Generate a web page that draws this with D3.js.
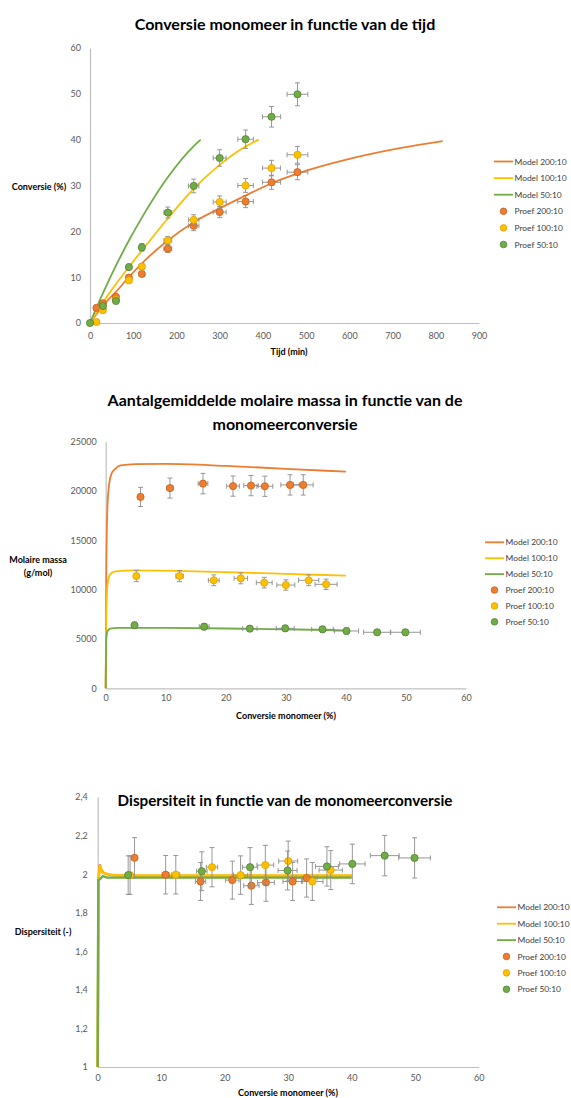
<!DOCTYPE html>
<meta charset="utf-8">
<style>
body { margin: 0; background: #fff; }
text { font-family: Lato, "Open Sans", sans-serif; }
</style>
<body>
<script src="https://cdnjs.cloudflare.com/ajax/libs/d3/7.8.5/d3.min.js"></script>
<script>

var width = 571,
    height = 1098;

var seriesNames = ["200:10", "100:10", "50:10"];
var colors = ["#ED7D31", "#FFC000", "#70AD47"],
    darker = ["#C9601A", "#D9A300", "#548235"];

// --- grafiek 1: conversie vs tijd
var tijdTicks = [0, 100, 200, 300, 400, 500, 600, 700, 800, 900];
var convTicks = [0, 10, 20, 30, 40, 50, 60];

var proefTijd200 = [15, 30, 60, 90, 120, 180, 240, 300, 360, 420, 480];
var proefConv200 = [3.3, 4.3, 5.7, 9.9, 10.7, 16.2, 21.2, 24.2, 26.5, 30.7, 32.9];
var proefTijd100 = [15, 30, 60, 90, 120, 180, 240, 300, 360, 420, 480];
var proefConv100 = [0.2, 2.8, 5.1, 9.3, 12.3, 18.0, 22.5, 26.4, 30.0, 33.8, 36.7];
var proefTijd50 = [0, 30, 60, 90, 120, 180, 240, 300, 360, 420, 480];
var proefConv50 = [0, 3.7, 4.8, 12.2, 16.5, 24.1, 29.9, 36.0, 40.1, 45.0, 49.9];

var modelTijd200 = [0, 30, 60, 90, 120, 180, 240, 300, 360, 420, 480, 600, 720, 816];
var modelConv200 = [0, 3.8, 6.8, 10, 13, 18, 22, 25, 27.8, 30.5, 32.6, 35.8, 38.2, 39.7];
var modelTijd100 = [0, 30, 60, 120, 180, 240, 300, 360, 390];
var modelConv100 = [0, 4.5, 8.5, 15.8, 22.8, 29.3, 34.5, 38.5, 40];
var modelTijd50 = [0, 30, 60, 90, 120, 180, 240, 256];
var modelConv50 = [0, 6.5, 12.5, 18, 23, 31.8, 38.6, 40];

// --- grafiek 2: Mn vs conversie
var pctTicks = [0, 10, 20, 30, 40, 50, 60];
var mnTicks = [0, 5000, 10000, 15000, 20000, 25000];

var mnConv200 = [5.8, 10.7, 16.2, 21.2, 24.2, 26.5, 30.7, 32.9];
var mnProef200 = [19400, 20300, 20750, 20500, 20550, 20480, 20620, 20620];
var mnConv100 = [5.1, 12.3, 18.0, 22.5, 26.4, 30.0, 33.8, 36.7];
var mnProef100 = [11380, 11380, 10950, 11150, 10710, 10470, 10950, 10540];
var mnConv50 = [4.8, 16.4, 24.0, 29.9, 36.1, 40.1, 45.2, 49.9];
var mnProef50 = [6390, 6250, 6050, 6080, 5980, 5810, 5680, 5680];

var mnModelX200 = [0, 0.1, 0.3, 0.6, 1, 1.5, 2.5, 5, 10, 20, 30, 40];
var mnModel200 = [0, 12000, 18500, 20800, 21800, 22200, 22600, 22720, 22750, 22550, 22250, 21960];
var mnModelX100 = [0, 0.1, 0.3, 0.6, 1, 2, 5, 10, 20, 30, 40];
var mnModel100 = [0, 7000, 10500, 11400, 11700, 11880, 11950, 11920, 11780, 11600, 11420];
var mnModelX50 = [0, 0.1, 0.3, 0.6, 1, 2, 5, 10, 20, 30, 40];
var mnModel50 = [0, 5000, 5800, 6000, 6080, 6120, 6130, 6120, 6060, 5980, 5880];

// --- grafiek 3: dispersiteit vs conversie
var dispTicks = [1, 1.2, 1.4, 1.6, 1.8, 2, 2.2, 2.4];

var dispProef200 = [2.085, 1.997, 1.962, 1.969, 1.940, 1.957, 1.962, 1.980];
var dispProef100 = [1.995, 1.997, 2.036, 1.995, 2.047, 2.068, 1.962, 2.021];
var dispProef50 = [1.995, 2.015, 2.036, 2.019, 2.040, 2.053, 2.096, 2.084];

var dispModelX200 = [0, 0.1, 0.3, 0.6, 1, 2, 5, 10, 20, 30, 40];
var dispModel200 = [1, 1.95, 2.05, 2.02, 2.005, 1.995, 1.99, 1.99, 1.99, 1.99, 1.99];
var dispModelX100 = [0, 0.15, 0.35, 0.7, 1.5, 3, 10, 20, 30, 40];
var dispModel100 = [1, 1.97, 2.045, 2.01, 2.0, 1.993, 1.993, 1.993, 1.993, 1.993];
var dispModelX50 = [0, 0.1, 0.4, 0.8, 1.5, 5, 10, 20, 30, 40];
var dispModel50 = [1, 1.97, 1.975, 1.99, 1.982, 1.982, 1.982, 1.982, 1.982, 1.982];

var svg = d3.select("body").append("svg")
    .attr("width", width)
    .attr("height", height);

var comma = function(d) { return String(d).replace(".", ","); };

function zip(xs, ys) {
    return xs.map(function(x, i) { return [x, ys[i]]; });
}

function drawChart(c) {
    var x = d3.scaleLinear().domain(c.xDomain).range(c.xRange),
        y = d3.scaleLinear().domain(c.yDomain).range(c.yRange);

    // titel
    c.title.forEach(function(t, i) {
        svg.append("text")
            .attr("x", 285).attr("y", c.titleY + i * 24)
            .attr("text-anchor", "middle")
            .style("font-size", c.titleSize + "px").style("font-weight", "bold")
            .style("fill", "#000")
            .text(t);
    });

    var xAxis = svg.append("g")
        .attr("transform", "translate(0," + c.yRange[0] + ")")
        .call(d3.axisBottom(x).tickValues(c.xTicks).tickSize(0).tickPadding(c.xPad)
            .tickFormat(d3.format("d")));
    var yAxis = svg.append("g")
        .attr("transform", "translate(" + c.xRange[0] + ",0)")
        .call(d3.axisLeft(y).tickValues(c.yTicks).tickSize(0).tickPadding(c.yPad)
            .tickFormat(c.yFormat || d3.format("d")));
    [xAxis, yAxis].forEach(function(a) {
        a.select(".domain").attr("stroke", "#bfbfbf").attr("stroke-width", 1.2);
        a.selectAll("text").style("font-size", "9px").style("fill", "#595959")
            .style("font-family", "Lato, sans-serif");
    });

    svg.append("text")
        .attr("x", c.xTitle[0]).attr("y", c.xTitle[1])
        .attr("text-anchor", "middle")
        .style("font-size", "9px").style("font-weight", "bold")
        .text(c.xLabel);
    c.yLabel.forEach(function(t, i) {
        svg.append("text")
            .attr("x", c.yTitle[0]).attr("y", c.yTitle[1] + i * 13)
            .attr("text-anchor", "middle")
            .style("font-size", "9px").style("font-weight", "bold")
            .text(t);
    });

    var line = d3.line()
        .x(function(d) { return x(d[0]); })
        .y(function(d) { return y(d[1]); })
        .curve(c.curve);

    c.models.forEach(function(m, i) {
        svg.append("path")
            .datum(m)
            .attr("fill", "none")
            .attr("stroke", colors[i])
            .attr("stroke-width", c.lineWidth)
            .attr("d", line);
    });

    c.proef.forEach(function(s, i) {
        var g = svg.append("g");
        s.forEach(function(d) {
            var ex = d[0] * 0.05, ey = d[1] * c.yErr;
            var px = x(d[0]), py = y(d[1]);
            var x0 = x(d[0] - ex), x1 = x(d[0] + ex),
                y0 = y(d[1] - ey), y1 = y(d[1] + ey);
            var p = d3.path();
            if (x1 - x0 > 1) {
                p.moveTo(x0, py); p.lineTo(x1, py);
                p.moveTo(x0, py - 2.5); p.lineTo(x0, py + 2.5);
                p.moveTo(x1, py - 2.5); p.lineTo(x1, py + 2.5);
            }
            if (y0 - y1 > 1) {
                p.moveTo(px, y0); p.lineTo(px, y1);
                p.moveTo(px - 2.5, y0); p.lineTo(px + 2.5, y0);
                p.moveTo(px - 2.5, y1); p.lineTo(px + 2.5, y1);
            }
            g.append("path").attr("d", p.toString())
                .attr("fill", "none").attr("stroke", "#8c8c8c").attr("stroke-width", 0.9);
        });
        g.selectAll("circle")
            .data(s)
            .enter().append("circle")
            .attr("cx", function(d) { return x(d[0]); })
            .attr("cy", function(d) { return y(d[1]); })
            .attr("r", 3.6)
            .attr("fill", colors[i])
            .attr("stroke", darker[i])
            .attr("stroke-width", 0.8);
    });

    // legenda
    var lg = svg.append("g").attr("transform", "translate(" + c.legend[0] + ",0)");
    seriesNames.forEach(function(n, i) {
        var ly = c.legend[1] + i * c.legend[2];
        lg.append("line").attr("x1", 0).attr("x2", 19).attr("y1", ly).attr("y2", ly)
            .attr("stroke", colors[i]).attr("stroke-width", 1.8);
        lg.append("text").attr("x", 20.5).attr("y", ly + 3)
            .style("font-size", "8.4px").style("fill", "#404040").text("Model " + n);
    });
    seriesNames.forEach(function(n, i) {
        var ly = c.legend[1] + (i + 3) * c.legend[2];
        lg.append("circle").attr("cx", 9.5).attr("cy", ly).attr("r", 3.3)
            .attr("fill", colors[i]).attr("stroke", darker[i]).attr("stroke-width", 0.8);
        lg.append("text").attr("x", 20.5).attr("y", ly + 3)
            .style("font-size", "8.4px").style("fill", "#404040").text("Proef " + n);
    });
}

drawChart({
    title: ["Conversie monomeer in functie van de tijd"],
    titleY: 30, titleSize: 16,
    xDomain: [0, 900], xRange: [90, 479],
    yDomain: [0, 60], yRange: [323, 48],
    xTicks: tijdTicks, yTicks: convTicks,
    xPad: 10, yPad: 9,
    xLabel: "Tijd (min)", xTitle: [289, 355],
    yLabel: ["Conversie (%)"], yTitle: [39, 190],
    curve: d3.curveMonotoneX, lineWidth: 1.8,
    yErr: 0.05,
    models: [zip(modelTijd200, modelConv200), zip(modelTijd100, modelConv100), zip(modelTijd50, modelConv50)],
    proef: [zip(proefTijd200, proefConv200), zip(proefTijd100, proefConv100), zip(proefTijd50, proefConv50)],
    legend: [494, 161.5, 16.6]
});

drawChart({
    title: ["Aantalgemiddelde molaire massa in functie van de", "monomeerconversie"],
    titleY: 406, titleSize: 16,
    xDomain: [0, 60], xRange: [105.7, 466],
    yDomain: [0, 25000], yRange: [688.3, 441.7],
    xTicks: pctTicks, yTicks: mnTicks,
    xPad: 6.5, yPad: 9,
    xLabel: "Conversie monomeer (%)", xTitle: [286, 719],
    yLabel: ["Molaire massa", "(g/mol)"], yTitle: [38, 563],
    curve: d3.curveMonotoneX, lineWidth: 1.8,
    yErr: 0.05,
    models: [zip(mnModelX200, mnModel200), zip(mnModelX100, mnModel100), zip(mnModelX50, mnModel50)],
    proef: [zip(mnConv200, mnProef200), zip(mnConv100, mnProef100), zip(mnConv50, mnProef50)],
    legend: [485, 542.3, 15.9]
});

drawChart({
    title: ["Dispersiteit in functie van de monomeerconversie"],
    titleY: 806, titleSize: 15.2,
    xDomain: [0, 60], xRange: [97.7, 478.7],
    yDomain: [1, 2.4], yRange: [1067, 797],
    xTicks: pctTicks, yTicks: dispTicks,
    xPad: 8, yPad: 10,
    yFormat: comma,
    xLabel: "Conversie monomeer (%)", xTitle: [288, 1096],
    yLabel: ["Dispersiteit (-)"], yTitle: [43, 935],
    curve: d3.curveLinear, lineWidth: 2.4,
    yErr: 0.05,
    models: [zip(dispModelX200, dispModel200), zip(dispModelX100, dispModel100), zip(dispModelX50, dispModel50)],
    proef: [zip(mnConv200, dispProef200), zip(mnConv100, dispProef100), zip(mnConv50, dispProef50)],
    legend: [497, 907.3, 16.4]
});

</script>
